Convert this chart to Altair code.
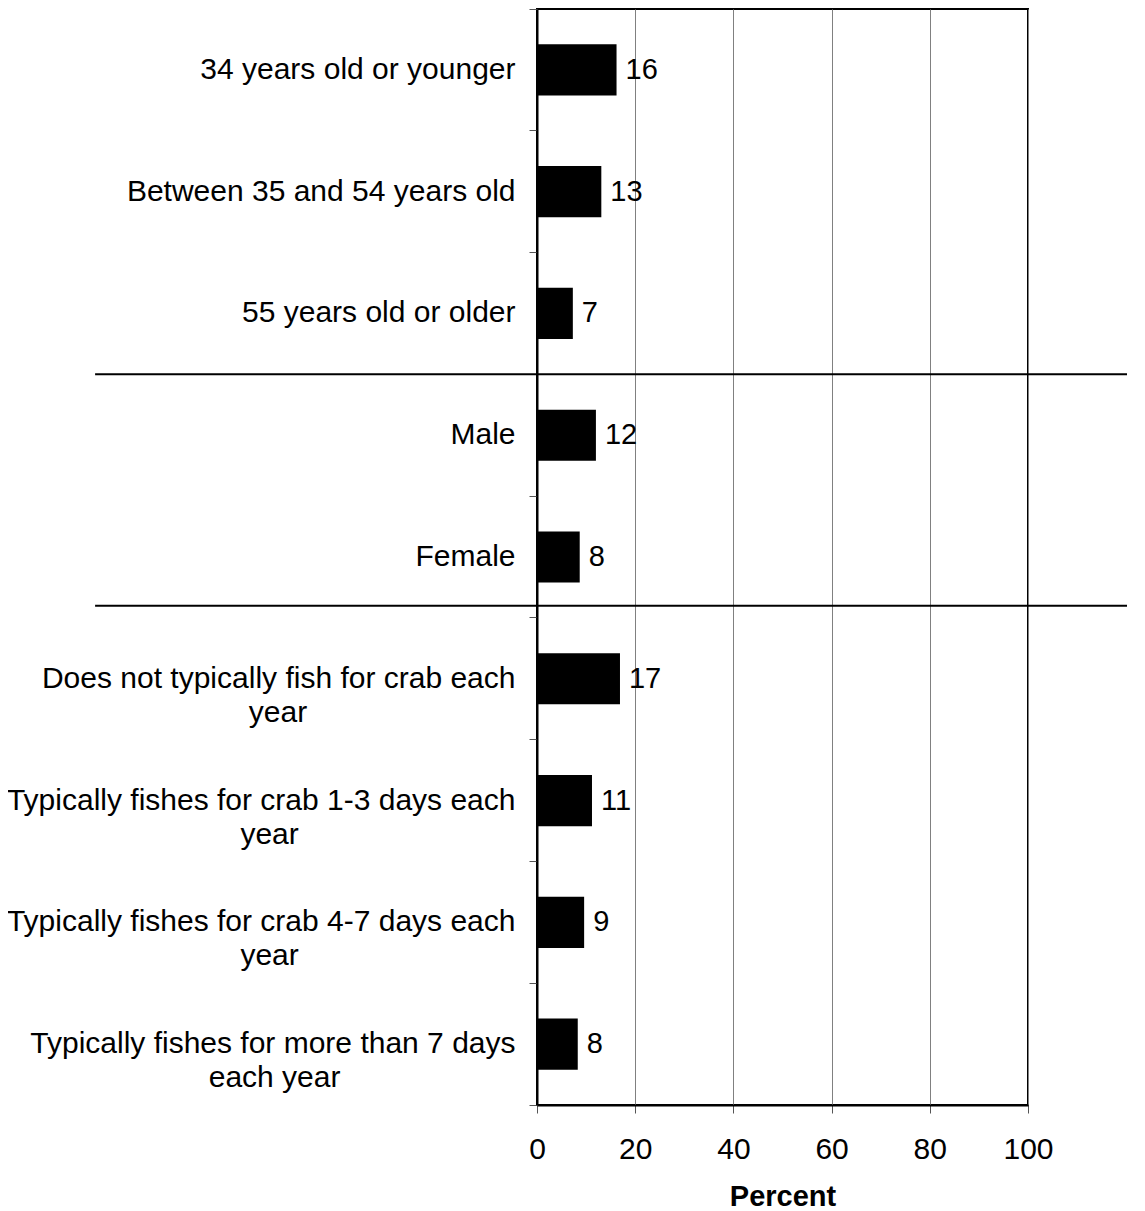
import altair as alt
import pandas as pd

# ---- data ----
categories = [
    "34 years old or younger",
    "Between 35 and 54 years old",
    "55 years old or older",
    "Male",
    "Female",
    "Does not typically fish for crab each\nyear",
    "Typically fishes for crab 1-3 days each\nyear",
    "Typically fishes for crab 4-7 days each\nyear",
    "Typically fishes for more than 7 days\neach year",
]
values = [16.2, 13.1, 7.3, 12.0, 8.7, 16.9, 11.2, 9.6, 8.3]
value_labels = ["16", "13", "7", "12", "8", "17", "11", "9", "8"]
x_ticks = [0, 20, 40, 60, 80, 100]
separator_groups = ["55 years old or older", "Female"]

FONT = "Liberation Sans"

df = pd.DataFrame({"cat": categories, "value": values, "label": value_labels})

y_scale = alt.Scale(domain=categories, paddingInner=0, paddingOuter=0)
x_scale = alt.Scale(domain=[0, 100], nice=False)

# two-line labels: second line is padded with no-break spaces (closed by a
# zero-width space so they are not trimmed) so it sits roughly centred under
# the first line, like the reference's centred label blocks
label_expr = (
    "indexof(datum.label, '\\n') < 0 ? datum.label : "
    "[split(datum.label, '\\n')[0], "
    "pad(split(datum.label, '\\n')[1], "
    "length(split(datum.label, '\\n')[1]) + "
    "round((length(split(datum.label, '\\n')[0]) - length(split(datum.label, '\\n')[1])) * 0.755), "
    "'\\u00a0') + '\\u200b']"
)

y_axis = alt.Axis(
    title=None,
    bandPosition=1,
    tickExtra=True,
    labelExpr=label_expr,
    labelFont=FONT,
    labelFontSize=30,
    labelColor="black",
    labelLimit=700,
    labelPadding=14,
    labelLineHeight=34,
    tickSize=8,
    tickColor="#555555",
    domainColor="black",
    domainWidth=2,
    grid=False,
)

x_axis = alt.Axis(
    values=x_ticks,
    title="Percent",
    titleFont=FONT,
    titleFontSize=29,
    titleFontWeight="bold",
    titleColor="black",
    titlePadding=18,
    labelFont=FONT,
    labelFontSize=30,
    labelColor="black",
    labelPadding=21,
    labelFlush=False,
    tickSize=8,
    tickColor="#555555",
    domainColor="black",
    domainWidth=2,
    grid=True,
    gridColor="#808080",
    gridWidth=1,
)

base = alt.Chart(df)

bars = base.mark_bar(color="black", height={"band": 0.42}).encode(
    x=alt.X("value:Q", scale=x_scale, axis=x_axis),
    y=alt.Y("cat:N", scale=y_scale, axis=y_axis, sort=categories),
)

texts = base.mark_text(
    align="left", baseline="middle", dx=9, fontSize=29, font=FONT, color="black"
).encode(
    x=alt.X("value:Q", scale=x_scale),
    y=alt.Y("cat:N", scale=y_scale, sort=categories),
    text="label:N",
)

sep1 = alt.Chart(pd.DataFrame({"cat": [separator_groups[0]]})).mark_rule(
    color="black", strokeWidth=2
).encode(
    y=alt.Y("cat:N", scale=y_scale, sort=categories, bandPosition=1),
    x=alt.datum(-90),
    x2=alt.datum(130),
)

sep2 = alt.Chart(pd.DataFrame({"cat": [separator_groups[1]]})).mark_rule(
    color="black", strokeWidth=2
).encode(
    y=alt.Y("cat:N", scale=y_scale, sort=categories, bandPosition=0.9),
    x=alt.datum(-90),
    x2=alt.datum(130),
)

chart = (
    alt.layer(bars, texts, sep1, sep2)
    .properties(
        width=491,
        height=1096,
        autosize=alt.AutoSizeParams(type="none"),
        padding={"left": 529, "top": 1, "right": 99, "bottom": 112},
    )
    .configure(font=FONT, background="white")
    .configure_view(stroke="black", strokeWidth=2)
)

chart.save("out.html", embed_options={"renderer": "svg", "actions": False})
